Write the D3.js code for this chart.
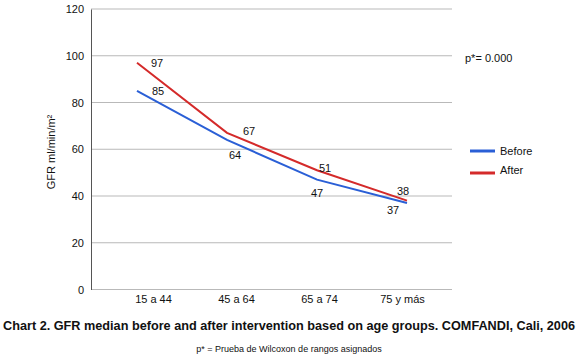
<!DOCTYPE html>
<html>
<head>
<script src="https://d3js.org/d3.v7.min.js"></script>
<style>
  body { margin: 0; background: #fff; }
  text { font-family: "Liberation Sans", Arial, sans-serif; fill: #111; }
</style>
</head>
<body>
<div id="chart"></div>
<script>
  var ageGroups = ["15 a 44", "45 a 64", "65 a 74", "75 y más"];
  var before = [85, 64, 47, 37];
  var after = [97, 67, 51, 38];
  var yTicks = [0, 20, 40, 60, 80, 100, 120];
  var seriesNames = ["Before", "After"];
  var colors = ["#2a5fd6", "#d42a2a"];

  var W = 579, H = 362;
  var svg = d3.select("#chart").append("svg").attr("width", W).attr("height", H);

  var y = d3.scaleLinear().domain([0, 120]).range([289.5, 9]);
  var x = d3.scalePoint().domain(ageGroups).range([137, 407]);
  var xLab = d3.scalePoint().domain(ageGroups).range([153, 402]);

  // gridlines
  svg.append("g").selectAll("line").data(yTicks).enter().append("line")
    .attr("x1", 91).attr("x2", 452)
    .attr("y1", function(d) { return y(d); }).attr("y2", function(d) { return y(d); })
    .attr("stroke", "#b9b9b9").attr("stroke-width", 1);

  // y axis
  var yAxis = d3.axisLeft(y).tickValues(yTicks).tickSize(0).tickPadding(7);
  var gY = svg.append("g").attr("transform", "translate(91,0)").call(yAxis);
  gY.select(".domain").attr("stroke", "#555");
  gY.selectAll("text").style("font-size", "11px").attr("fill", "#111")
    .style("font-family", "'Liberation Sans', Arial, sans-serif");

  // x labels
  var xAxis = d3.axisBottom(xLab).tickSize(0).tickPadding(6);
  var gX = svg.append("g").attr("transform", "translate(0,289.5)").call(xAxis);
  gX.select(".domain").remove();
  gX.selectAll("text").style("font-size", "11px").attr("fill", "#111")
    .style("font-family", "'Liberation Sans', Arial, sans-serif");

  svg.append("text")
    .attr("transform", "translate(55,152) rotate(-90)")
    .attr("text-anchor", "middle").style("font-size", "11px")
    .text("GFR ml/min/m²");

  var line = d3.line()
    .x(function(d, i) { return x(ageGroups[i]); })
    .y(function(d) { return y(d); });

  [before, after].forEach(function(s, k) {
    svg.append("path").datum(s)
      .attr("d", line).attr("fill", "none")
      .attr("stroke", colors[k]).attr("stroke-width", 2);
  });

  // value labels
  var afterOff = [[20, 4], [22, 2], [8, 2], [-4, -6]];
  var beforeOff = [[21, 4], [8, 19], [0, 17], [-14, 11]];
  svg.append("g").selectAll("text").data(after).enter().append("text")
    .attr("x", function(d, i) { return x(ageGroups[i]) + afterOff[i][0]; })
    .attr("y", function(d) { return y(d); })
    .attr("dy", function(d, i) { return afterOff[i][1]; })
    .attr("text-anchor", "middle").style("font-size", "11px")
    .text(function(d) { return d; });
  svg.append("g").selectAll("text").data(before).enter().append("text")
    .attr("x", function(d, i) { return x(ageGroups[i]) + beforeOff[i][0]; })
    .attr("y", function(d) { return y(d); })
    .attr("dy", function(d, i) { return beforeOff[i][1]; })
    .attr("text-anchor", "middle").style("font-size", "11px")
    .text(function(d) { return d; });

  // legend
  var leg = svg.append("g").attr("transform", "translate(470,151)");
  seriesNames.forEach(function(n, i) {
    leg.append("line").attr("x1", 0).attr("x2", 25)
      .attr("y1", i * 22).attr("y2", i * 22)
      .attr("stroke", colors[i]).attr("stroke-width", 3);
    leg.append("text").attr("x", 30).attr("y", i * 19 + 4)
      .style("font-size", "11px").text(n);
  });

  svg.append("text").attr("x", 465).attr("y", 62)
    .style("font-size", "11px").text("p*= 0.000");

  svg.append("text").attr("x", 289).attr("y", 330)
    .attr("text-anchor", "middle")
    .attr("textLength", 572).attr("lengthAdjust", "spacingAndGlyphs")
    .style("font-size", "12px").style("font-weight", "bold")
    .text("Chart 2. GFR median before and after intervention based on age groups. COMFANDI, Cali, 2006");

  svg.append("text").attr("x", 289).attr("y", 352)
    .attr("text-anchor", "middle").style("font-size", "9px")
    .text("p* = Prueba de Wilcoxon de rangos asignados");
</script>
</body>
</html>
